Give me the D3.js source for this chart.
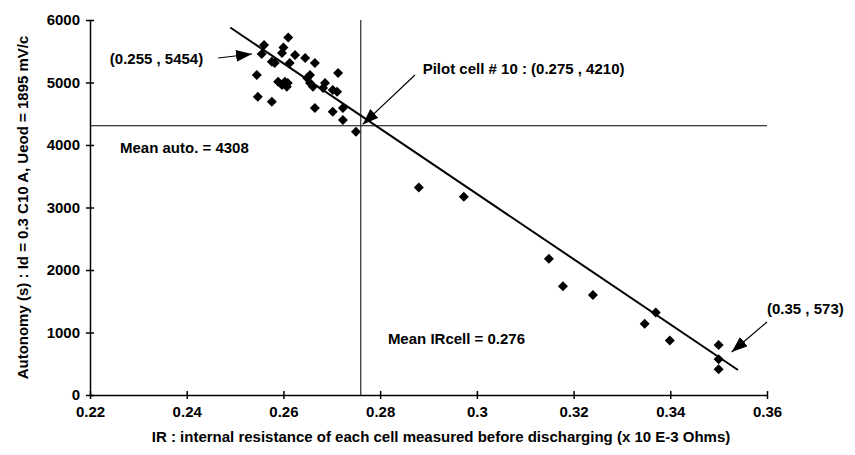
<!DOCTYPE html>
<html>
<head>
<meta charset="utf-8">
<script src="https://cdn.jsdelivr.net/npm/d3@7"></script>
<style>
  body { margin: 0; background: #fff; }
  svg text { font-family: "Liberation Sans", Arial, sans-serif; font-weight: bold; fill: #000; }
</style>
</head>
<body>
<div id="chart"></div>
<script>
// cell measurements: internal resistance vs autonomy
var irValues = [0.261, 0.256, 0.260, 0.2555, 0.2597, 0.2624, 0.2645, 0.2576, 0.2582, 0.2613,
  0.2665, 0.2545, 0.2655, 0.2713, 0.2589, 0.2603, 0.2609, 0.2597, 0.2607, 0.2649,
  0.2655, 0.2661, 0.2686, 0.2682, 0.2702, 0.2711, 0.2547, 0.2576, 0.2665, 0.2702,
  0.2723, 0.2723, 0.275, 0.288, 0.2973, 0.3149, 0.3178, 0.324, 0.337, 0.3347,
  0.3399, 0.35, 0.35, 0.35];
var autonomy = [5720, 5600, 5560, 5454, 5470, 5440, 5390, 5330, 5310, 5310,
  5310, 5120, 5120, 5150, 5010, 5010, 4990, 4960, 4930, 5070,
  4990, 4930, 4990, 4910, 4880, 4850, 4770, 4690, 4590, 4530,
  4590, 4400, 4210, 3320, 3170, 2180, 1740, 1600, 1320, 1140,
  870, 800, 573, 410];

var fitX = [0.249, 0.354];
var fitY = [5880, 400];

var meanIR = 0.276;
var meanAuto = 4308;

var xTicks = [0.22, 0.24, 0.26, 0.28, 0.3, 0.32, 0.34, 0.36];
var xTickLabels = ["0.22", "0.24", "0.26", "0.28", "0.3", "0.32", "0.34", "0.36"];
var yTicks = [0, 1000, 2000, 3000, 4000, 5000, 6000];

var margin = { top: 20, right: 88, bottom: 60, left: 90 },
  width = 855 - margin.left - margin.right,
  height = 455 - margin.top - margin.bottom;

var x = d3.scaleLinear().domain([0.22, 0.36]).range([0, width]);
var y = d3.scaleLinear().domain([0, 6000]).range([height, 0]);

var svg = d3.select("#chart").append("svg")
  .attr("width", 855)
  .attr("height", 455);

svg.append("defs").append("marker")
  .attr("id", "head")
  .attr("viewBox", "0 0 16 12")
  .attr("refX", 16)
  .attr("refY", 6)
  .attr("markerWidth", 16)
  .attr("markerHeight", 12)
  .attr("markerUnits", "userSpaceOnUse")
  .attr("orient", "auto")
  .append("path")
  .attr("d", "M0,0L16,6L0,12Z")
  .attr("fill", "#000");

var g = svg.append("g")
  .attr("transform", "translate(" + margin.left + "," + margin.top + ")");

// axes
var xAxis = g.append("g")
  .attr("transform", "translate(0," + height + ")")
  .call(d3.axisBottom(x)
    .tickValues(xTicks)
    .tickFormat(function(d, i) { return xTickLabels[i]; })
    .tickSizeInner(4)
    .tickSizeOuter(0)
    .tickPadding(7));
xAxis.selectAll(".tick line").attr("y1", -4);

var yAxis = g.append("g")
  .call(d3.axisLeft(y)
    .tickValues(yTicks)
    .tickFormat(d3.format("d"))
    .tickSizeInner(4)
    .tickSizeOuter(0)
    .tickPadding(6));
yAxis.selectAll(".tick line").attr("x1", 4);

g.selectAll(".domain, .tick line").attr("stroke", "#000").attr("stroke-width", 1.5);
g.selectAll(".tick text").attr("font-size", 15);

// mean lines
g.append("line")
  .attr("x1", x(0.22)).attr("x2", x(0.36))
  .attr("y1", y(meanAuto)).attr("y2", y(meanAuto))
  .attr("stroke", "#000").attr("stroke-width", 1);
g.append("line")
  .attr("x1", x(meanIR)).attr("x2", x(meanIR))
  .attr("y1", y(0)).attr("y2", y(6000))
  .attr("stroke", "#000").attr("stroke-width", 1);

// fitted line
g.append("line")
  .attr("x1", x(fitX[0])).attr("y1", y(fitY[0]))
  .attr("x2", x(fitX[1])).attr("y2", y(fitY[1]))
  .attr("stroke", "#000").attr("stroke-width", 2);

// points
var diamond = d3.symbol().type(d3.symbolSquare).size(50);
g.selectAll(".pt")
  .data(irValues)
  .enter().append("path")
  .attr("class", "pt")
  .attr("d", diamond)
  .attr("transform", function(d, i) {
    return "translate(" + x(d) + "," + y(autonomy[i]) + ") rotate(45)";
  })
  .attr("fill", "#000");

// annotations
function note(txt, tx, ty) {
  g.append("text")
    .attr("x", x(tx)).attr("y", y(ty))
    .attr("font-size", 15)
    .text(txt);
}
function arrow(x1, y1, x2, y2) {
  g.append("line")
    .attr("x1", x(x1)).attr("y1", y(y1))
    .attr("x2", x(x2)).attr("y2", y(y2))
    .attr("stroke", "#000").attr("stroke-width", 1.2)
    .attr("marker-end", "url(#head)");
}

note("(0.255 , 5454)", 0.2241, 5300);
arrow(0.2465, 5392, 0.2535, 5456);

note("Pilot cell # 10 : (0.275 , 4210)", 0.2888, 5130);
arrow(0.2872, 5120, 0.2764, 4330);

note("Mean auto. = 4308", 0.2262, 3880);
note("Mean IRcell = 0.276", 0.2816, 820);

note("(0.35 , 573)", 0.36, 1290);
arrow(0.36, 1168, 0.3527, 688);

// axis titles
svg.append("text")
  .attr("transform", "translate(28," + (margin.top + height / 2) + ") rotate(-90)")
  .attr("text-anchor", "middle")
  .attr("font-size", 15)
  .text("Autonomy (s) : Id = 0.3 C10 A, Ueod = 1895 mV/c");

svg.append("text")
  .attr("x", 441)
  .attr("y", 442)
  .attr("text-anchor", "middle")
  .attr("font-size", 15)
  .text("IR : internal resistance of each cell measured before discharging (x 10 E-3 Ohms)");
</script>
</body>
</html>
